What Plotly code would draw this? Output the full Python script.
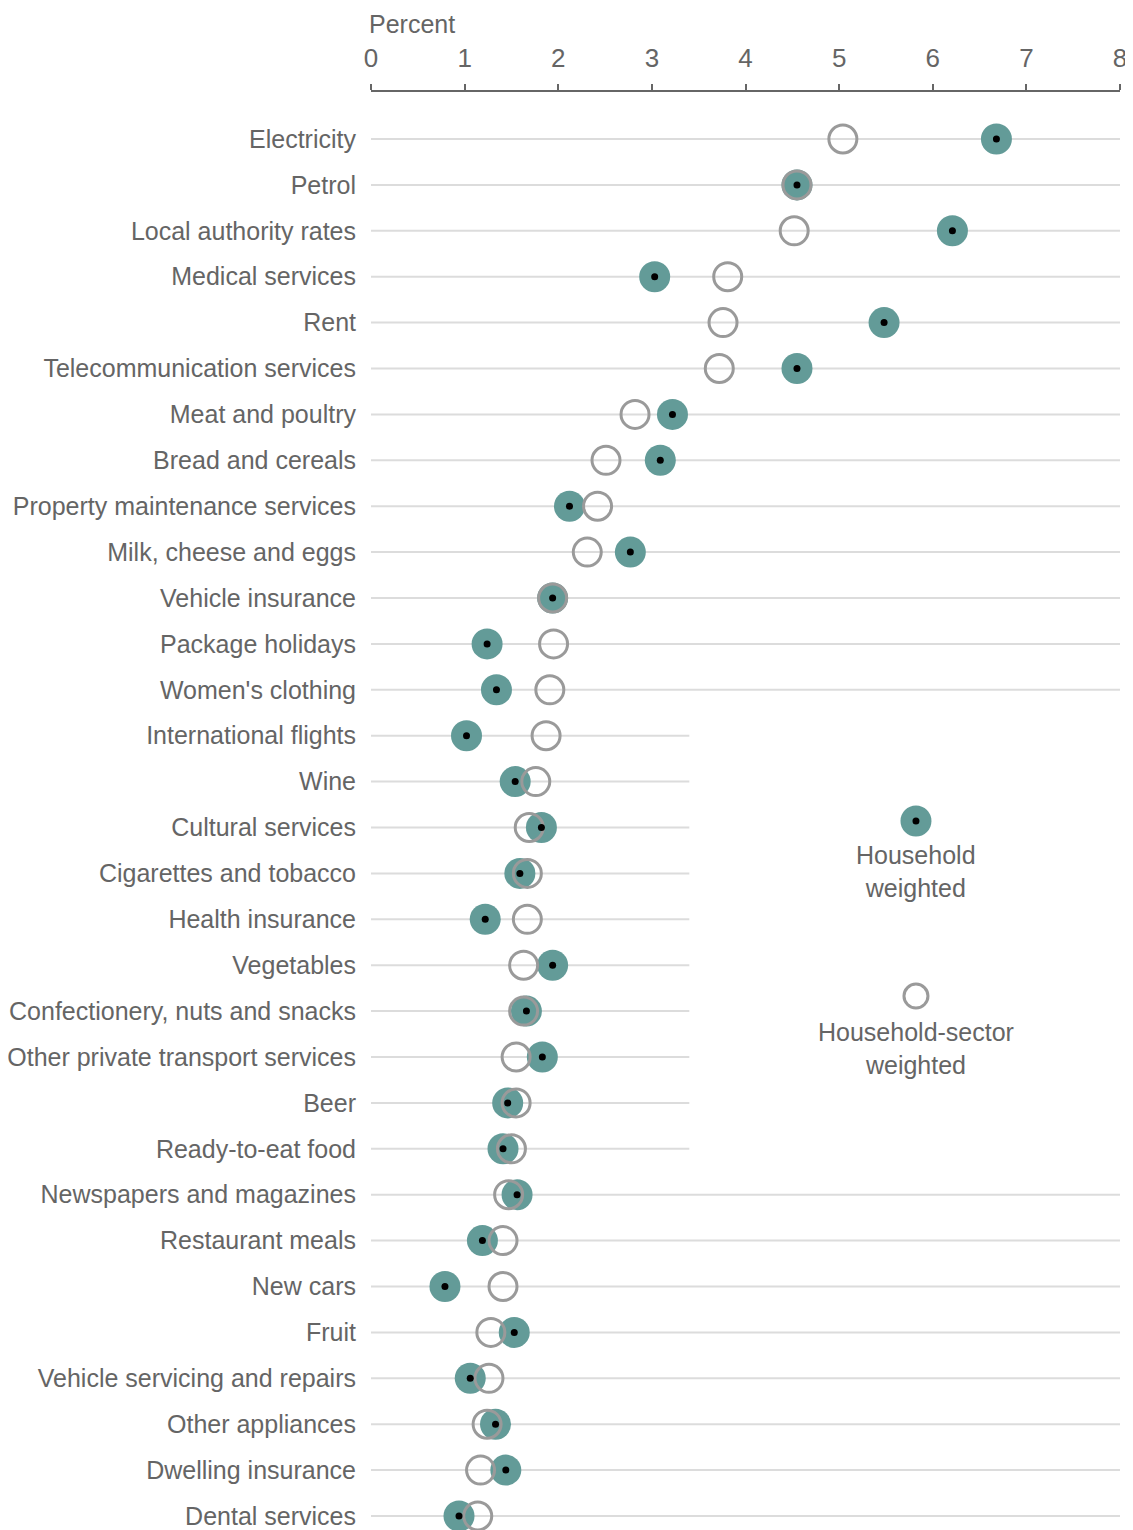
import plotly.graph_objects as go

categories = ["Electricity", "Petrol", "Local authority rates", "Medical services", "Rent",
              "Telecommunication services", "Meat and poultry", "Bread and cereals",
              "Property maintenance services", "Milk, cheese and eggs", "Vehicle insurance",
              "Package holidays", "Women's clothing", "International flights", "Wine",
              "Cultural services", "Cigarettes and tobacco", "Health insurance", "Vegetables",
              "Confectionery, nuts and snacks", "Other private transport services", "Beer",
              "Ready-to-eat food", "Newspapers and magazines", "Restaurant meals", "New cars",
              "Fruit", "Vehicle servicing and repairs", "Other appliances", "Dwelling insurance",
              "Dental services"]

household_weighted = [6.68, 4.55, 6.21, 3.03, 5.48, 4.55, 3.22, 3.09, 2.12, 2.77, 1.94,
                      1.24, 1.34, 1.02, 1.54, 1.82, 1.59, 1.22, 1.94, 1.66, 1.83, 1.46,
                      1.41, 1.56, 1.19, 0.79, 1.53, 1.06, 1.33, 1.44, 0.94]

sector_weighted = [5.04, 4.55, 4.52, 3.81, 3.76, 3.72, 2.82, 2.51, 2.42, 2.31, 1.94,
                   1.95, 1.91, 1.87, 1.76, 1.69, 1.67, 1.67, 1.63, 1.63, 1.55, 1.55,
                   1.50, 1.47, 1.41, 1.41, 1.28, 1.26, 1.24, 1.17, 1.14]

x_ticks = [0, 1, 2, 3, 4, 5, 6, 7, 8]

# rows whose gridline is shortened to leave space for the key
short_rows = ["International flights", "Wine", "Cultural services", "Cigarettes and tobacco",
              "Health insurance", "Vegetables", "Confectionery, nuts and snacks",
              "Other private transport services", "Beer", "Ready-to-eat food"]

TEAL = "#639b98"
GREY = "#9a9a9a"
TXT = "#656565"
FONT = "Liberation Sans, Arial, sans-serif"
FS = 25

ypos = list(range(len(categories)))

fig = go.Figure()

fig.add_trace(go.Scatter(
    x=household_weighted, y=ypos, mode="markers", cliponaxis=False,
    marker=dict(size=31, color=TEAL, line=dict(width=0)), hoverinfo="skip", showlegend=False))
fig.add_trace(go.Scatter(
    x=sector_weighted, y=ypos, mode="markers", cliponaxis=False,
    marker=dict(size=28, color="rgba(0,0,0,0)", line=dict(width=3, color=GREY)),
    hoverinfo="skip", showlegend=False))
fig.add_trace(go.Scatter(
    x=household_weighted, y=ypos, mode="markers", cliponaxis=False,
    marker=dict(size=7, color="black", line=dict(width=0)), hoverinfo="skip", showlegend=False))

shapes = []
for i, c in enumerate(categories):
    xend = 3.4 if c in short_rows else 8
    shapes.append(dict(type="line", xref="x", yref="y", x0=0, x1=xend, y0=i, y1=i,
                       line=dict(color="#dcdcdc", width=2), layer="below"))

# key
kx = 0.7276
shapes.append(dict(type="circle", xref="paper", yref="paper", xsizemode="pixel", ysizemode="pixel",
                   xanchor=kx, yanchor=0.4930, x0=-15.5, x1=15.5, y0=-15.5, y1=15.5,
                   fillcolor=TEAL, line=dict(width=0)))
shapes.append(dict(type="circle", xref="paper", yref="paper", xsizemode="pixel", ysizemode="pixel",
                   xanchor=kx, yanchor=0.4930, x0=-3.5, x1=3.5, y0=-3.5, y1=3.5,
                   fillcolor="black", line=dict(width=0)))
shapes.append(dict(type="circle", xref="paper", yref="paper", xsizemode="pixel", ysizemode="pixel",
                   xanchor=kx, yanchor=0.3713, x0=-12, x1=12, y0=-12, y1=12,
                   fillcolor="rgba(0,0,0,0)", line=dict(width=3, color=GREY)))

annotations = [
    dict(text="Percent", xref="paper", yref="paper", x=0, y=1 + 84 / 1438, xanchor="left",
         yanchor="top", xshift=-4, showarrow=False, font=dict(size=FS, color=TXT, family=FONT)),
    dict(text="Household<br>weighted", xref="paper", yref="paper", x=kx, y=0.4579,
         xanchor="center", yanchor="middle", showarrow=False, align="center",
         font=dict(size=FS, color=TXT, family=FONT)),
    dict(text="Household-sector<br>weighted", xref="paper", yref="paper", x=kx, y=0.3345,
         xanchor="center", yanchor="middle", showarrow=False, align="center",
         font=dict(size=FS, color=TXT, family=FONT)),
]

# the page places the figure 8 px from the top-left corner
fig.update_layout(
    width=1125, height=1522,
    margin=dict(l=363, r=13, t=84, b=0, autoexpand=False),
    paper_bgcolor="white", plot_bgcolor="white",
    font=dict(family=FONT, size=FS, color=TXT),
    shapes=shapes, annotations=annotations,
    xaxis=dict(side="top", range=[0, 8], tickvals=x_ticks, ticktext=[str(t) for t in x_ticks],
               ticks="outside", ticklen=6, tickwidth=1.5, tickcolor="#666666",
               showline=True, linecolor="#666666", linewidth=2, showgrid=False, zeroline=False,
               ticklabelstandoff=7, tickfont=dict(size=26, color=TXT, family=FONT),
               automargin=False, fixedrange=True),
    yaxis=dict(range=[30.305, -1.024], tickvals=ypos, ticktext=categories, ticks="",
               showline=False, showgrid=False, zeroline=False, ticklabelstandoff=14,
               tickfont=dict(size=FS, color=TXT, family=FONT), automargin=False, fixedrange=True),
)

fig.write_html("out.html")
